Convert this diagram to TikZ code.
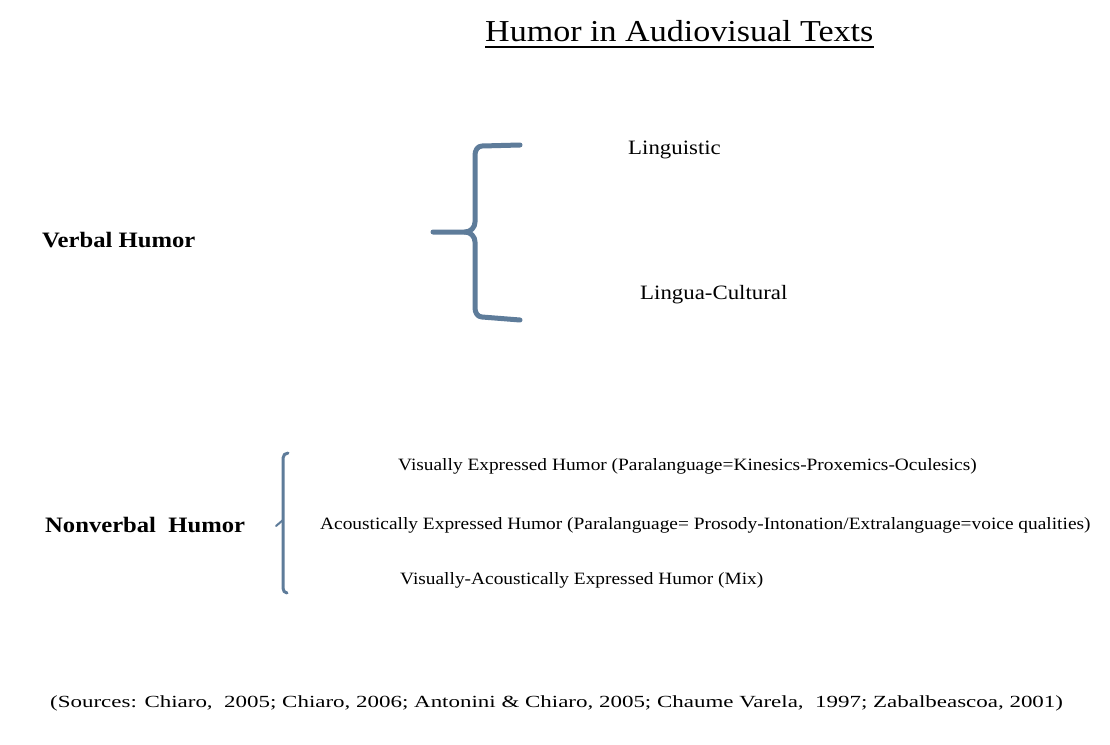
\documentclass[tikz,border=0pt]{standalone}
\usepackage{fontspec}
\setmainfont[FakeStretch=1.12]{Liberation Serif}
\newfontfamily\srcfont[FakeStretch=1.35]{Liberation Serif}
\definecolor{bracecol}{HTML}{5E7C9A}
\begin{document}
\begin{tikzpicture}[x=1pt,y=-1pt,
  lbl/.style={inner sep=0pt,anchor=west,font=\fontsize{20.4}{22}\selectfont},
  hdr/.style={inner sep=0pt,anchor=west,font=\fontsize{22}{24}\selectfont\bfseries},
  sub/.style={inner sep=0pt,anchor=west,font=\fontsize{17.3}{19}\selectfont},
  brace/.style={draw=bracecol,line cap=round,line join=round}]
\useasboundingbox[fill=white] (0,0) rectangle (1110,744);
\node[inner sep=0pt,anchor=west,font=\fontsize{30.4}{33}\selectfont] (title) at (485,31) {Humor in Audiovisual Texts};
\draw[line width=1.5pt] (title.south west)++(0,5) -- ([yshift=-5pt]title.south east);
\node[lbl] (ling) at (628,150) {Linguistic};
\node[lbl] (lc) at (640,295) {Lingua-Cultural};
\node[hdr] (verbal) at (42,240) {Verbal Humor};
\draw[brace,line width=5pt] (520,145) -- (482,146) to[out=180,in=90] (475,155) -- (475,222) to[out=-90,in=0] (465,232) -- (433,232);
\draw[brace,line width=5pt] (465,232) to[out=0,in=90] (475,242) -- (475,308) to[out=-90,in=180] (482,317) -- (520,320);
\node[hdr] (nonverbal) at (45,525) {Nonverbal\ \ Humor};
\draw[brace,line width=3pt] (288,453) to[out=180,in=90] (283,458) -- (283,588) to[out=-90,in=180] (287,593);
\draw[brace,line width=2pt] (283,520) -- (276,526);
\node[sub] (v) at (398,466) {Visually Expressed Humor (Paralanguage=Kinesics-Proxemics-Oculesics)};
\node[sub] (a) at (320,525) {Acoustically Expressed Humor (Paralanguage= Prosody-Intonation/Extralanguage=voice qualities)};
\node[sub] (m) at (400,580) {Visually-Acoustically Expressed Humor (Mix)};
\node[inner sep=0pt,anchor=west,font=\srcfont\fontsize{17}{19}\selectfont] (src) at (50,703) {(Sources: Chiaro,\ \ 2005; Chiaro, 2006; Antonini \& Chiaro, 2005; Chaume Varela,\ \ 1997; Zabalbeascoa, 2001)};
\end{tikzpicture}
\end{document}
